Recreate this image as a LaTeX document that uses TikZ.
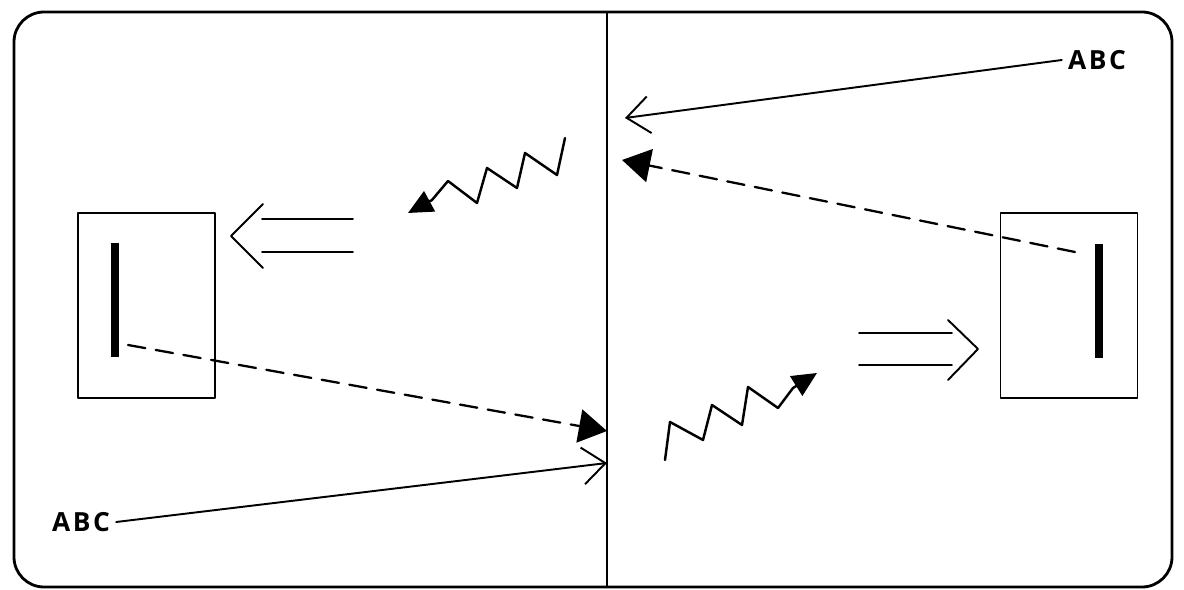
\documentclass[tikz,border=0pt]{standalone}
\usepackage{fontspec}
\setsansfont{Open Sans}
\usetikzlibrary{arrows.meta}
\begin{document}
\begin{tikzpicture}[x=0.02cm,y=-0.02cm,line join=round,line cap=round,
	font=\sffamily\bfseries\fontsize{15}{18}\selectfont,
	box/.style={draw,line width=1.1pt,minimum width=2.74cm,minimum height=3.7cm,inner sep=0pt},
	bar/.style={fill=black,minimum width=4.5pt,minimum height=2.28cm,inner sep=0pt},
	ray/.style={line width=1.3pt,dash pattern=on 10pt off 6pt,-{Triangle[length=16pt,width=19pt]}},
	beam/.style={line width=1.1pt,-{Straight Barb[length=13pt,width=21pt,line width=1.1pt]}},
	wave/.style={line width=1.4pt,-{Triangle[length=14pt,width=13pt]}}]
	\useasboundingbox (0,0) rectangle (1184,590);
	% Rahmen und Trennlinie
	\draw[line width=1.6pt,rounded corners=0.6cm] (14,12) rectangle (1172,587);
	\path (607,12) coordinate (top) (607,587) coordinate (bot);
	\draw[line width=1pt] (top) -- (bot);
	% linke und rechte Kammer
	\node[box] (lbox) at (146.5,305.5) {};
	\node[box] (rbox) at (1069,305.5) {};
	\node[bar] (lbar) at (115,300) {};
	\node[bar] (rbar) at (1099,301) {};
	% Beschriftungen
	\node (abcT) at (1097,60) {A\kern1.5pt B\kern1.5pt C};
	\node (abcB) at (81,522) {A\kern1.5pt B\kern1.5pt C};
	\path
	(625,118) coordinate (inT)
	(622,160) coordinate (hitT)
	(607,431) coordinate (hitB)
	(607,463) coordinate (inB)
	(128,345) coordinate (sL)
	(1075,252) coordinate (sR);
	% Strahlen
	\draw[beam] (abcT.west) -- (inT);
	\draw[beam] (abcB.east) -- (inB);
	\draw[ray] (sL) -- (hitB);
	\draw[ray] (sR) -- (hitT);
	% Wellen
	\draw[wave] (565,138) -- (557,175) -- (525,153) -- (517,188) -- (487,168) -- (477,203) -- (448,181) -- (432,200) -- (408,213);
	\draw[wave] (665,460) -- (670,422) -- (703,440) -- (712,405) -- (742,425) -- (748,387) -- (778,408) -- (793,388) -- (817,373);
	% Doppelpfeile
	\draw[line width=1.1pt] (262,219) -- (353,219) (262,252) -- (353,252) (263,204) -- (231,236) -- (263,268);
	\draw[line width=1.1pt] (859,333) -- (952,333) (859,365) -- (952,365) (948,320) -- (978,349) -- (948,380);
\end{tikzpicture}
\end{document}
